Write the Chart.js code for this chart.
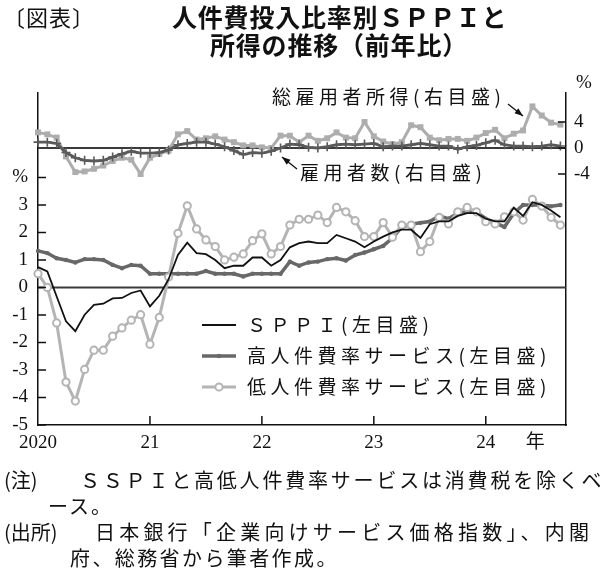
<!DOCTYPE html>
<html>
<head>
<meta charset="utf-8">
<script src="https://cdn.jsdelivr.net/npm/chart.js@4.4.1/dist/chart.umd.min.js"></script>
<style>
  body { margin: 0; background: #fff; }
  #wrap { position: relative; width: 600px; height: 576px; overflow: hidden; color: #111;
          font-family: "Noto Sans CJK JP", sans-serif; }
  #c { position: absolute; left: 0; top: 0; }
  .t { position: absolute; white-space: nowrap; line-height: 1; }
</style>
</head>
<body>
<div id="wrap">
  <canvas id="c" width="600" height="576"></canvas>
  <div class="t" style="left:3px;top:5px;font-size:22px;letter-spacing:1px;">〔図表〕</div>
  <div class="t" style="left:172px;top:4px;font-size:25px;font-weight:bold;letter-spacing:0.8px;">人件費投入比率別ＳＰＰＩと</div>
  <div class="t" style="left:210px;top:32px;font-size:25px;font-weight:bold;letter-spacing:0.8px;">所得の推移（前年比）</div>
  <div class="t" style="left:4px;top:470px;font-size:20px;">(注)</div>
  <div class="t" style="left:80px;top:470px;font-size:20px;letter-spacing:2.8px;">ＳＳＰＩと高低人件費率サービスは消費税を除くベ</div>
  <div class="t" style="left:48px;top:496px;font-size:20px;letter-spacing:2px;">ース。</div>
  <div class="t" style="left:4px;top:522px;font-size:20px;">(出所)</div>
  <div class="t" style="left:95px;top:522px;font-size:20px;letter-spacing:4.2px;">日本銀行「企業向けサービス価格指数」、内閣</div>
  <div class="t" style="left:70px;top:548px;font-size:20px;letter-spacing:2.4px;">府、総務省から筆者作成。</div>
</div>
<script>
// monthly, Jan 2020 .. Sep 2024, y/y %
const SPPI = [0.74, 0.58, -0.33, -1.23, -1.59, -0.99, -0.63, -0.59, -0.40, -0.38, -0.20, -0.11,
  -0.69, -0.30, 0.30, 1.18, 1.63, 1.25, 1.21, 1.00, 0.70, 0.79, 0.79, 1.09,
  1.09, 0.79, 1.00, 1.46, 1.61, 1.67, 1.61, 1.61, 1.91, 1.79, 1.67, 1.46,
  1.67, 1.85, 2.00, 2.10, 2.10, 1.80, 2.30, 2.40, 2.40, 2.60, 2.70, 2.70,
  2.50, 2.40, 2.40, 2.90, 2.60, 3.10, 3.00, 2.80, 2.55];
const HIGH = [1.33, 1.25, 1.06, 1.00, 0.91, 1.03, 1.03, 1.00, 0.82, 0.70, 0.82, 0.79,
  0.50, 0.50, 0.50, 0.50, 0.50, 0.50, 0.60, 0.50, 0.50, 0.50, 0.40, 0.50,
  0.50, 0.50, 0.50, 0.94, 0.79, 0.91, 0.94, 1.03, 1.06, 0.98, 1.18, 1.27,
  1.39, 1.51, 1.80, 2.20, 2.30, 2.35, 2.40, 2.60, 2.50, 2.70, 2.80, 2.75,
  2.50, 2.35, 2.20, 2.70, 3.00, 3.00, 3.00, 2.95, 3.00];
const LOW = [0.50, 0.00, -1.29, -3.44, -4.13, -2.98, -2.28, -2.28, -1.77, -1.47, -1.19, -0.99,
  -2.06, -1.09, 0.38, 1.97, 2.97, 2.13, 1.73, 1.49, 1.00, 1.10, 1.22, 1.70,
  1.95, 1.22, 1.49, 2.27, 2.48, 2.48, 2.63, 2.36, 2.91, 2.75, 2.43, 1.85,
  1.85, 2.36, 1.83, 2.27, 2.27, 1.30, 1.67, 2.55, 2.31, 2.75, 2.91, 2.75,
  2.39, 2.31, 2.57, 2.75, 2.45, 3.20, 2.96, 2.55, 2.27];
const INCOME = [2.4, 2.1, 1.6, -1.3, -3.7, -3.6, -3.2, -2.7, -2.0, -1.5, -1.8, -4.0,
  -1.5, -0.9, -0.4, 2.1, 2.6, 1.3, 1.5, 1.8, 1.3, 0.9, 0.4, 0.4,
  0.1, 0.0, 1.9, 1.9, 0.9, 1.9, 1.1, 1.5, 2.4, 1.6, 1.5, 4.0,
  1.8, 1.0, 0.6, 0.9, 3.5, 3.2, 1.6, 1.2, 1.4, 1.4, 1.1, 1.6,
  2.3, 2.8, 1.5, 2.2, 2.7, 6.4, 5.0, 3.9, 3.6];
const EMPLOYEES = [0.9, 0.9, 0.7, -0.7, -1.5, -1.9, -2.0, -1.9, -1.4, -0.9, -0.5, -0.8,
  -0.8, -0.7, -0.3, 0.5, 0.7, 0.9, 0.9, 0.6, 0.2, -0.4, -1.0, -0.7,
  -0.8, -0.5, 0.0, 0.6, 0.5, 0.1, 0.0, 0.2, 0.5, 0.6, 0.5, 0.6,
  0.7, 0.2, 0.3, 0.3, 0.5, 0.7, 0.5, 0.3, 0.3, -0.2, 0.2, 0.4,
  0.8, 1.2, 0.5, 0.3, 0.3, 0.2, 0.3, 0.5, 0.3];

const X_TICKS = [0, 12, 24, 36, 48, 53.3];
const X_LABELS = ['2020', '21', '22', '23', '24', '年'];
const LEFT_TICKS = [-5, -4, -3, -2, -1, 0, 1, 2, 3, 4];
const RIGHT_TICKS = [-4, 0, 4];
const LEGEND = ['ＳＰＰＩ(左目盛)', '高人件費率サービス(左目盛)', '低人件費率サービス(左目盛)'];

const SERIF = "'Liberation Serif', 'Noto Sans CJK JP', serif";
const JP = "'Noto Sans CJK JP', sans-serif";
const pts = arr => arr.map((v, i) => ({ x: i, y: v }));

const sppiDs = { label: LEGEND[0], data: pts(SPPI), yAxisID: 'y', order: 1,
  borderColor: '#111', borderWidth: 1.8, pointRadius: 0 };
const highDs = { label: LEGEND[1], data: pts(HIGH), yAxisID: 'y', order: 3,
  borderColor: '#686868', backgroundColor: '#686868', borderWidth: 3.5,
  pointRadius: 2.2, pointBorderWidth: 0 };
const lowDs = { label: LEGEND[2], data: pts(LOW), yAxisID: 'y', order: 2,
  borderColor: '#b4b4b4', backgroundColor: '#fff', borderWidth: 3,
  pointRadius: 3.6, pointBorderWidth: 2, pointBorderColor: '#b4b4b4' };
const incomeDs = { label: '総雇用者所得', data: pts(INCOME), yAxisID: 'y2', order: 5,
  borderColor: '#adadad', backgroundColor: '#adadad', borderWidth: 3,
  pointStyle: 'rect', pointRadius: 4.2, pointBorderWidth: 0 };
const empDs = { label: '雇用者数', data: pts(EMPLOYEES), yAxisID: 'y2', order: 4,
  borderColor: '#5a5a5a', borderWidth: 2.8,
  pointStyle: 'cross', pointRadius: 4.5, pointBorderWidth: 1.6, pointBorderColor: '#5a5a5a' };

function inwardTicks(ctx, a, scales) {
  ctx.strokeStyle = '#111';
  ctx.lineWidth = 1.5;
  ctx.beginPath();
  LEFT_TICKS.forEach(v => {
    const y = scales.y.getPixelForValue(v);
    ctx.moveTo(a.left, y); ctx.lineTo(a.left + 8, y);
  });
  RIGHT_TICKS.forEach(v => {
    const y = scales.y2.getPixelForValue(v);
    ctx.moveTo(a.right, y); ctx.lineTo(a.right - 8, y);
  });
  X_TICKS.slice(1, 5).forEach(v => {
    const x = scales.x.getPixelForValue(v);
    ctx.moveTo(x, a.bottom); ctx.lineTo(x, a.bottom - 9);
  });
  ctx.stroke();
}

function legendRow(ctx, ds, y, text) {
  const x0 = 202, x1 = 236, xm = (x0 + x1) / 2;
  ctx.strokeStyle = ds.borderColor;
  ctx.lineWidth = ds.borderWidth;
  ctx.beginPath(); ctx.moveTo(x0, y); ctx.lineTo(x1, y); ctx.stroke();
  if (ds.pointRadius) {
    ctx.beginPath();
    ctx.arc(xm, y, ds.pointRadius, 0, Math.PI * 2);
    ctx.fillStyle = ds.backgroundColor;
    ctx.fill();
    if (ds.pointBorderWidth) {
      ctx.lineWidth = ds.pointBorderWidth;
      ctx.strokeStyle = ds.pointBorderColor;
      ctx.stroke();
    }
  }
  ctx.fillStyle = '#111';
  ctx.fillText(text, 247, y);
}

function arrow(ctx, x0, y0, x1, y1) {
  const ang = Math.atan2(y1 - y0, x1 - x0);
  ctx.beginPath(); ctx.moveTo(x0, y0); ctx.lineTo(x1, y1); ctx.stroke();
  ctx.beginPath();
  ctx.moveTo(x1, y1);
  ctx.lineTo(x1 - 9 * Math.cos(ang - 0.35), y1 - 9 * Math.sin(ang - 0.35));
  ctx.lineTo(x1 - 9 * Math.cos(ang + 0.35), y1 - 9 * Math.sin(ang + 0.35));
  ctx.closePath(); ctx.fill();
}

const frame = {
  id: 'frame',
  beforeDatasetsDraw(chart) {
    const { ctx, chartArea: a, scales } = chart;
    ctx.save();
    ctx.strokeStyle = '#3a3a3a';
    ctx.lineWidth = 2;
    [scales.y, scales.y2].forEach(s => {
      const y = s.getPixelForValue(0);
      ctx.beginPath(); ctx.moveTo(a.left, y); ctx.lineTo(a.right, y); ctx.stroke();
    });
    ctx.restore();
  },
  afterDraw(chart) {
    const { ctx, chartArea: a, scales } = chart;
    ctx.save();
    inwardTicks(ctx, a, scales);

    ctx.font = '19px ' + JP;
    ctx.letterSpacing = '4.5px';
    ctx.textBaseline = 'middle';
    legendRow(ctx, sppiDs, 325, LEGEND[0]);
    legendRow(ctx, highDs, 356, LEGEND[1]);
    legendRow(ctx, lowDs, 387, LEGEND[2]);

    ctx.fillStyle = '#111';
    ctx.fillText('総雇用者所得(右目盛)', 272, 97);
    ctx.fillText('雇用者数(右目盛)', 300, 173);
    ctx.letterSpacing = '0px';
    ctx.strokeStyle = '#111';
    ctx.lineWidth = 1.3;
    arrow(ctx, 508, 104, 523, 116);
    arrow(ctx, 297, 169, 282, 157);

    ctx.font = '19px ' + SERIF;
    ctx.fillText('%', 576, 83);
    ctx.restore();
  }
};

new Chart(document.getElementById('c'), {
  type: 'line',
  data: { datasets: [sppiDs, lowDs, highDs, empDs, incomeDs] },
  options: {
    responsive: false,
    animation: false,
    events: [],
    layout: { padding: { top: 93, left: 0, right: 0, bottom: 0 } },
    elements: { line: { tension: 0 } },
    datasets: { line: { clip: false } },
    plugins: { legend: { display: false }, tooltip: { enabled: false } },
    scales: {
      x: {
        type: 'linear', min: 0, max: 56.6,
        grid: { display: false, drawTicks: false },
        border: { display: true, color: '#111', width: 1.5 },
        afterBuildTicks: s => { s.ticks = X_TICKS.map(v => ({ value: v })); },
        afterFit: s => { s.height = 151; },
        ticks: {
          autoSkip: false, maxRotation: 0, padding: 7, color: '#111',
          font: { family: SERIF, size: 19 },
          callback: v => X_LABELS[X_TICKS.indexOf(v)]
        }
      },
      y: {
        position: 'left', min: -5, max: 7.07,
        grid: { display: false, drawTicks: false },
        border: { display: true, color: '#111', width: 1.5 },
        afterBuildTicks: s => { s.ticks = LEFT_TICKS.map(v => ({ value: v })); },
        afterFit: s => { s.width = 38; },
        ticks: {
          padding: 10, color: '#111', font: { family: SERIF, size: 19 },
          callback: v => (v === 4 ? '%' : String(v))
        }
      },
      y2: {
        position: 'right', min: -42.6, max: 8.46,
        grid: { display: false, drawTicks: false },
        border: { display: true, color: '#111', width: 1.5 },
        afterBuildTicks: s => { s.ticks = RIGHT_TICKS.map(v => ({ value: v })); },
        afterFit: s => { s.width = 34; },
        ticks: {
          padding: 8, color: '#111', font: { family: SERIF, size: 19 },
          callback: v => String(v)
        }
      }
    }
  },
  plugins: [frame]
});
</script>
</body>
</html>
